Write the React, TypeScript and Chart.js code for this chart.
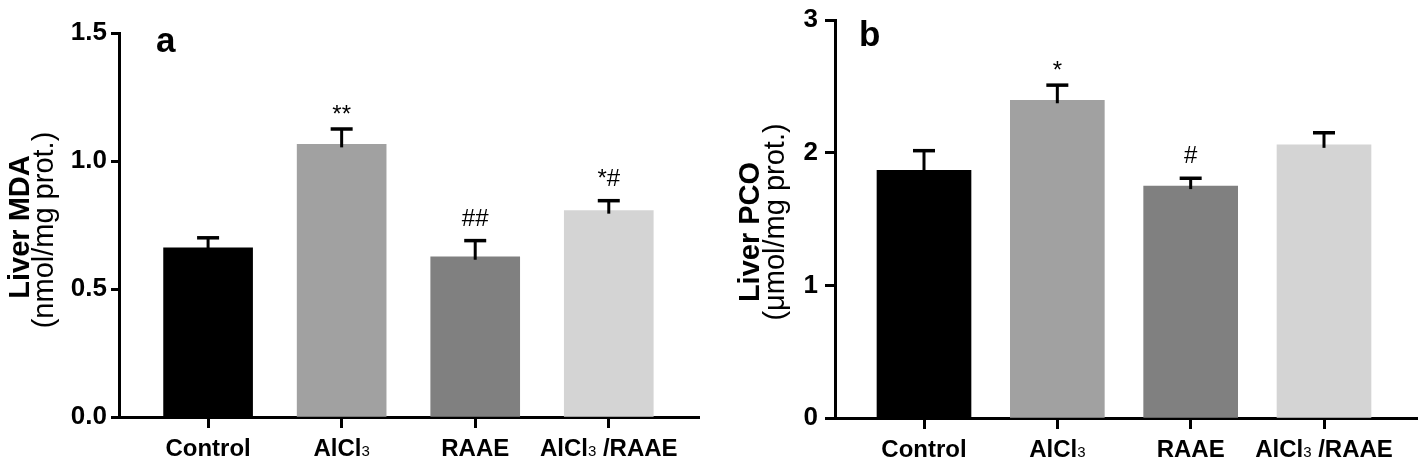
import React, { useEffect, useRef } from 'react';
import { Chart, registerables } from 'chart.js';

Chart.register(...registerables);

// ---------- data ----------
const categories = ['Control', 'AlCl3', 'RAAE', 'AlCl3 /RAAE'];
const barColors = ['#000000', '#a1a1a1', '#808080', '#d4d4d4'];

const mdaMean = [0.661, 1.065, 0.626, 0.806];
const mdaSem = [0.039, 0.06, 0.063, 0.039];
const mdaSig = ['', '**', '##', '*#'];
const mdaTicks = [0, 0.5, 1.0, 1.5];

const pcoMean = [1.867, 2.395, 1.748, 2.059];
const pcoSem = [0.148, 0.114, 0.059, 0.091];
const pcoSig = ['', '*', '#', ''];
const pcoTicks = [0, 1, 2, 3];

const FONT = "'Liberation Sans', Arial, Helvetica, sans-serif";

type PanelCfg = {
  key: string;
  letter: string;
  title: string;
  subtitle: string;
  mean: number[];
  sem: number[];
  sig: string[];
  ticks: number[];
  yMax: number;
  decimals: number;
  width: number;
  axisLeft: number;
  top: number;
  bottomH: number;
  xMin: number;
  xMax: number;
  barThickness: number;
  yTickLen: number;
  yTickPad: number;
  titleX: number;
  titleY: number;
  subX: number;
  subY: number;
  letterX: number;
  letterY: number;
  labelY: number;
};

function labelParts(label: string) {
  const parts: { t: string; sub: boolean }[] = [];
  let rest = label;
  while (rest.length) {
    const idx = rest.indexOf('AlCl3');
    if (idx === -1) {
      parts.push({ t: rest, sub: false });
      break;
    }
    if (idx > 0) parts.push({ t: rest.slice(0, idx), sub: false });
    parts.push({ t: 'AlCl', sub: false });
    parts.push({ t: '3', sub: true });
    rest = rest.slice(idx + 5);
  }
  return parts;
}

function makeOverlay(p: PanelCfg) {
  return {
    id: 'overlay_' + p.key,
    afterDraw(chart: any) {
      const ctx = chart.ctx as CanvasRenderingContext2D;
      const xs = chart.scales.x;
      const ys = chart.scales.y;
      ctx.save();
      // error bars + significance
      p.mean.forEach((m, i) => {
        const cx = xs.getPixelForValue(i);
        const y0 = ys.getPixelForValue(m);
        const y1 = ys.getPixelForValue(m + p.sem[i]);
        ctx.strokeStyle = '#000';
        ctx.lineWidth = 3;
        ctx.beginPath();
        ctx.moveTo(cx, y0 + 3);
        ctx.lineTo(cx, y1);
        ctx.stroke();
        ctx.lineWidth = 3.5;
        ctx.beginPath();
        ctx.moveTo(cx - 11, y1);
        ctx.lineTo(cx + 11, y1);
        ctx.stroke();
        const s = p.sig[i];
        if (s) {
          ctx.font = '24px ' + FONT;
          ctx.fillStyle = '#000';
          ctx.textAlign = 'center';
          ctx.textBaseline = 'alphabetic';
          const mm = ctx.measureText(s);
          const desc = mm.actualBoundingBoxDescent || 0;
          ctx.fillText(s, cx, y1 - 2 - 13 - desc);
        }
      });
      // x labels with subscript
      categories.forEach((lab, i) => {
        const cx = xs.getPixelForValue(i);
        const parts = labelParts(lab);
        const fonts = parts.map((pt) => (pt.sub ? '15px ' + FONT : 'bold 24px ' + FONT));
        let total = 0;
        const widths = parts.map((pt, k) => {
          ctx.font = fonts[k];
          const w = ctx.measureText(pt.t).width;
          total += w;
          return w;
        });
        let x = cx - total / 2;
        ctx.fillStyle = '#000';
        ctx.textAlign = 'left';
        ctx.textBaseline = 'alphabetic';
        parts.forEach((pt, k) => {
          ctx.font = fonts[k];
          ctx.fillText(pt.t, x, p.labelY);
          x += widths[k];
        });
      });
      // y titles
      ctx.fillStyle = '#000';
      ctx.textAlign = 'center';
      ctx.textBaseline = 'alphabetic';
      ctx.save();
      ctx.translate(p.titleX, p.titleY);
      ctx.rotate(-Math.PI / 2);
      ctx.font = 'bold 29px ' + FONT;
      ctx.fillText(p.title, 0, 0);
      ctx.restore();
      ctx.save();
      ctx.translate(p.subX, p.subY);
      ctx.rotate(-Math.PI / 2);
      ctx.font = '29px ' + FONT;
      ctx.fillText(p.subtitle, 0, 0);
      ctx.restore();
      // panel letter
      ctx.font = 'bold 35px ' + FONT;
      ctx.textAlign = 'left';
      ctx.fillText(p.letter, p.letterX, p.letterY);
      ctx.restore();
    },
  };
}

function buildChart(canvas: HTMLCanvasElement, p: PanelCfg) {
  return new Chart(canvas, {
    type: 'bar',
    data: {
      datasets: [
        {
          data: p.mean.map((v, i) => ({ x: i, y: v })),
          backgroundColor: barColors,
          borderWidth: 0,
          barThickness: p.barThickness,
        } as any,
      ],
    },
    options: {
      animation: false,
      responsive: false,
      devicePixelRatio: 1,
      events: [],
      layout: { padding: { left: 0, right: 0, top: p.top, bottom: 0 } },
      plugins: { legend: { display: false }, tooltip: { enabled: false } },
      scales: {
        x: {
          type: 'linear',
          offset: false,
          min: p.xMin,
          max: p.xMax,
          afterBuildTicks: (axis: any) => {
            axis.ticks = categories.map((_, i) => ({ value: i }));
          },
          afterFit: (axis: any) => {
            axis.height = p.bottomH;
          },
          ticks: { display: false },
          grid: {
            offset: false,
            drawOnChartArea: false,
            drawTicks: true,
            tickLength: 11,
            tickWidth: 3,
            tickColor: '#000',
          },
          border: { display: true, width: 3, color: '#000' },
        },
        y: {
          type: 'linear',
          min: 0,
          max: p.yMax,
          afterBuildTicks: (axis: any) => {
            axis.ticks = p.ticks.map((v) => ({ value: v }));
          },
          afterFit: (axis: any) => {
            axis.width = p.axisLeft;
          },
          ticks: {
            color: '#000',
            padding: p.yTickPad,
            font: { family: FONT, size: 26, weight: 'bold', lineHeight: 1 },
            callback: (v: any) => Number(v).toFixed(p.decimals),
          },
          grid: {
            drawOnChartArea: false,
            drawTicks: true,
            tickLength: p.yTickLen,
            tickWidth: 3,
            tickColor: '#000',
          },
          border: { display: true, width: 3, color: '#000' },
        },
      },
    } as any,
    plugins: [makeOverlay(p)],
  });
}

const panelA: PanelCfg = {
  key: 'a',
  letter: 'a',
  title: 'Liver MDA',
  subtitle: '(nmol/mg prot.)',
  mean: mdaMean,
  sem: mdaSem,
  sig: mdaSig,
  ticks: mdaTicks,
  yMax: 1.5,
  decimals: 1,
  width: 700,
  axisLeft: 119,
  top: 33,
  bottomH: 464 - 417,
  xMin: -0.667,
  xMax: 3.683,
  barThickness: 89,
  yTickLen: 8,
  yTickPad: 4,
  titleX: 29,
  titleY: 227,
  subX: 53,
  subY: 230,
  letterX: 156,
  letterY: 52,
  labelY: 456,
};

const panelB: PanelCfg = {
  key: 'b',
  letter: 'b',
  title: 'Liver PCO',
  subtitle: '(\u03bcmol/mg prot.)',
  mean: pcoMean,
  sem: pcoSem,
  sig: pcoSig,
  ticks: pcoTicks,
  yMax: 3,
  decimals: 0,
  width: 718,
  axisLeft: 135,
  top: 13,
  bottomH: 464 - 418,
  xMin: -0.6675,
  xMax: 3.705,
  barThickness: 94,
  yTickLen: 10,
  yTickPad: 7,
  titleX: 59,
  titleY: 232,
  subX: 84,
  subY: 222,
  letterX: 159,
  letterY: 46,
  labelY: 457,
};

function Panel({ cfg, left }: { cfg: PanelCfg; left: number }) {
  const ref = useRef<HTMLCanvasElement | null>(null);
  useEffect(() => {
    if (!ref.current) return;
    const chart = buildChart(ref.current, cfg);
    return () => chart.destroy();
  }, [cfg]);
  return (
    <canvas
      ref={ref}
      width={cfg.width}
      height={464}
      style={{ position: 'absolute', left, top: 0, width: cfg.width, height: 464 }}
    />
  );
}

export default function App() {
  return (
    <div
      style={{
        position: 'fixed',
        left: 0,
        top: 0,
        width: 1418,
        height: 464,
        background: '#ffffff',
        overflow: 'hidden',
      }}
    >
      <Panel cfg={panelA} left={0} />
      <Panel cfg={panelB} left={700} />
    </div>
  );
}
